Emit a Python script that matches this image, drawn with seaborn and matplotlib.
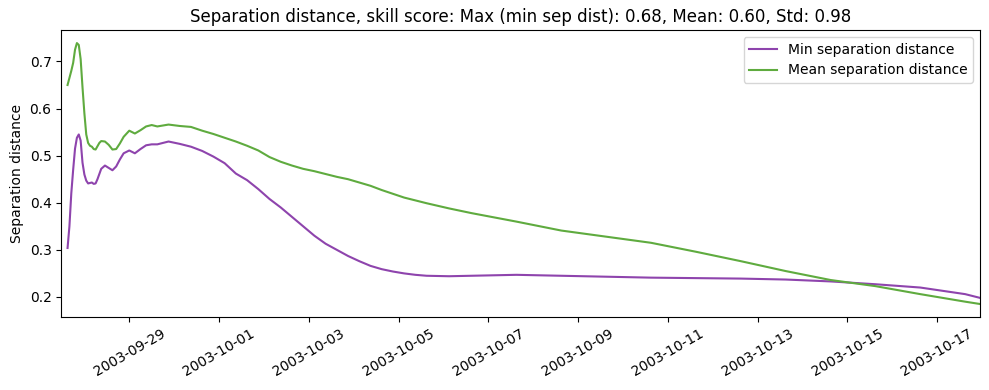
import pandas as pd
import seaborn as sns
import matplotlib.pyplot as plt
import matplotlib.dates as mdates

# hours since 2003-09-27 15:00
hours = [0, 1, 2, 3, 4, 5, 6, 7, 8, 9, 10, 11, 12, 13, 14, 15, 16, 17, 18,
         20, 22, 24, 26, 28, 30, 33, 36, 39, 42, 45, 48, 54, 60, 66, 72, 78,
         84, 90, 96, 102, 108, 114, 120, 126, 132, 138, 144, 150, 156, 162,
         168, 174, 180, 186, 192, 204, 216, 240, 264,
         288, 312, 336, 360, 384, 408, 432, 456, 480, 488]

min_sep = [0.304, 0.350, 0.420, 0.470, 0.515, 0.538, 0.545, 0.532, 0.485, 0.460,
           0.447, 0.441, 0.442, 0.443, 0.440, 0.441, 0.450, 0.461, 0.472,
           0.479, 0.474, 0.469, 0.477, 0.492, 0.505, 0.511, 0.505, 0.514, 0.522,
           0.524, 0.524, 0.530, 0.525, 0.519, 0.510, 0.498, 0.484, 0.462, 0.448,
           0.429, 0.408, 0.390, 0.370, 0.350, 0.330, 0.313, 0.300, 0.287, 0.276,
           0.266, 0.259, 0.254, 0.250, 0.247, 0.245, 0.244, 0.245, 0.247, 0.245,
           0.243, 0.241, 0.240, 0.239, 0.237, 0.233, 0.227, 0.220, 0.206, 0.198]

mean_sep = [0.650, 0.665, 0.680, 0.697, 0.725, 0.739, 0.735, 0.705, 0.645, 0.590,
            0.545, 0.527, 0.521, 0.519, 0.514, 0.513, 0.520, 0.527, 0.531,
            0.530, 0.523, 0.513, 0.514, 0.526, 0.540, 0.553, 0.547, 0.554, 0.562,
            0.565, 0.562, 0.566, 0.563, 0.561, 0.553, 0.546, 0.538, 0.530, 0.521,
            0.511, 0.497, 0.487, 0.479, 0.472, 0.467, 0.461, 0.455, 0.450, 0.443,
            0.436, 0.427, 0.419, 0.411, 0.405, 0.399, 0.388, 0.378, 0.360, 0.341,
            0.328, 0.315, 0.296, 0.276, 0.255, 0.236, 0.223, 0.206, 0.190, 0.185]

times = pd.Timestamp("2003-09-27 15:00") + pd.to_timedelta(hours, unit="h")
df = pd.DataFrame({"time": times, "min": min_sep, "mean": mean_sep})

fig, ax = plt.subplots(figsize=(9.89, 3.9), dpi=100)
sns.lineplot(x="time", y="min", data=df, ax=ax, color="#8e44ad",
             label="Min separation distance", linewidth=1.5)
sns.lineplot(x="time", y="mean", data=df, ax=ax, color="#5fab3f",
             label="Mean separation distance", linewidth=1.5)

ax.set_xlim(pd.Timestamp("2003-09-27 11:40"), pd.Timestamp("2003-10-17 23:00"))
ax.set_xticks(pd.date_range("2003-09-29", "2003-10-17", freq="2D"))
ax.xaxis.set_major_formatter(mdates.DateFormatter("%Y-%m-%d"))
plt.xticks(rotation=30)
ax.set_xlabel("")
ax.set_ylabel("Separation distance")
ax.set_title("Separation distance, skill score: Max (min sep dist): 0.68, Mean: 0.60, Std: 0.98")
ax.legend(loc="upper right")

plt.subplots_adjust(left=0.062, right=0.991, top=0.923, bottom=0.187)
plt.savefig("out.png")
